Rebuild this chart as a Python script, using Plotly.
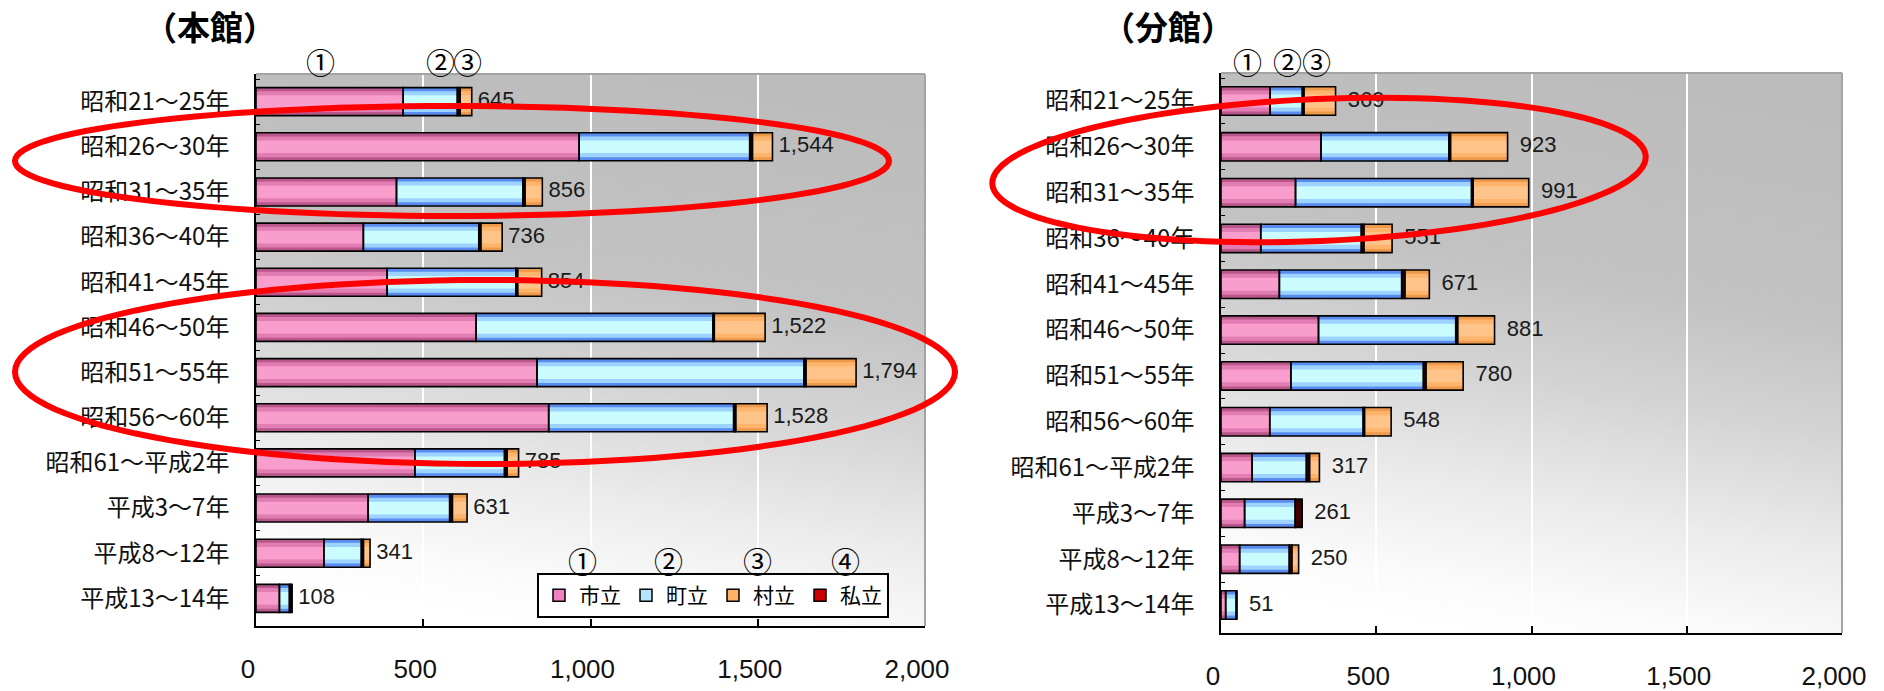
import base64
import math
import plotly.graph_objects as go

# ---- data -------------------------------------------------------------
categories = ["昭和21～25年", "昭和26～30年", "昭和31～35年", "昭和36～40年",
              "昭和41～45年", "昭和46～50年", "昭和51～55年", "昭和56～60年",
              "昭和61～平成2年", "平成3～7年", "平成8～12年", "平成13～14年"]
series_names = ["市立", "町立", "村立", "私立"]

# 本館
main_city = [440, 966, 420, 321, 392, 658, 840, 875, 475, 335, 203, 70]
main_town = [162, 510, 378, 345, 385, 708, 798, 553, 268, 244, 112, 30]
main_village = [35, 60, 52, 64, 72, 152, 150, 94, 34, 44, 20, 4]
main_private = [8, 8, 6, 6, 5, 4, 6, 6, 8, 8, 6, 4]

# 分館
branch_city = [158, 322, 240, 128, 188, 314, 225, 157, 100, 76, 60, 15]
branch_town = [104, 412, 567, 324, 394, 442, 427, 301, 175, 163, 160, 34]
branch_village = [102, 184, 179, 91, 79, 119, 120, 86, 32, 0, 22, 0]
branch_private = [5, 5, 5, 8, 10, 6, 8, 4, 10, 22, 8, 2]

tick_vals = [0, 500, 1000, 1500, 2000]
tick_text = ["0", "500", "1,000", "1,500", "2,000"]
panel_titles = ["（本館）", "（分館）"]

# ---- page geometry (pixels) ------------------------------------------
W, H = 1884, 691


def px(x):
    return x / W


def py(y):
    return 1 - y / H


CJK = "Noto Sans CJK JP"
NUM = "Liberation Sans Narrow, Liberation Sans, Arial"
LAB = "Liberation Sans, Arial"

panels = [
    dict(x0=256, x1=925, y0=74, y1=626, xa="x", ya="y", label_pad=" ",
         values={"市立": main_city, "町立": main_town,
                 "村立": main_village, "私立": main_private}),
    dict(x0=1221, x1=1842, y0=73, y1=633, xa="x2", ya="y2", label_pad="  ",
         values={"市立": branch_city, "町立": branch_town,
                 "村立": branch_village, "私立": branch_private}),
]

# shading bands for each series: (outer, middle, inner)
band_colors = {
    "市立": ["#b9578b", "#e27db3", "#f89dcc"],
    "町立": ["#5a8cf0", "#9dd3ff", "#c9fbff"],
    "村立": ["#ee9a4c", "#ffb46c", "#ffc48a"],
    "私立": ["#300000", "#3a0000", "#440000"],
}
legend_colors = {"市立": "#f080c0", "町立": "#b4e4ff", "村立": "#ffb464", "私立": "#cc0000"}
band_widths = [0.62, 0.46, 0.28]
stack_order = ["市立", "町立", "私立", "村立"]

fig = go.Figure()

for p in panels:
    vals = p["values"]
    bases = {}
    running = [0] * len(categories)
    for name in stack_order:
        bases[name] = list(running)
        running = [r + v for r, v in zip(running, vals[name])]
    totals = running

    # colour bands
    for name in stack_order:
        for w, col in zip(band_widths, band_colors[name]):
            fig.add_trace(go.Bar(
                y=categories, x=vals[name], base=bases[name], orientation="h",
                width=w, marker=dict(color=col, line=dict(width=0)),
                xaxis=p["xa"], yaxis=p["ya"], showlegend=False, hoverinfo="skip"))
    # black outlines
    for name in stack_order:
        fig.add_trace(go.Bar(
            y=categories, x=vals[name], base=bases[name], orientation="h",
            width=band_widths[0],
            marker=dict(color="rgba(0,0,0,0)", line=dict(color="#000000", width=1.6)),
            xaxis=p["xa"], yaxis=p["ya"], showlegend=False, hoverinfo="skip"))
    # total labels
    fig.add_trace(go.Scatter(
        y=categories, x=totals, mode="text",
        text=[p["label_pad"] + f"{t:,}" for t in totals], textposition="middle right",
        textfont=dict(family=LAB, size=22, color="#1a1a1a"),
        xaxis=p["xa"], yaxis=p["ya"], showlegend=False, hoverinfo="skip"))

# legend entries
for rank, name in enumerate(series_names):
    fig.add_trace(go.Bar(
        y=[None], x=[None], orientation="h", name=name, legendrank=rank + 1,
        marker=dict(color=legend_colors[name], line=dict(color="#000000", width=1.5)),
        xaxis="x", yaxis="y", hoverinfo="skip"))

# plot-area background gradient
svg = (
    "<svg xmlns='http://www.w3.org/2000/svg' width='100' height='100' "
    "viewBox='0 0 100 100' preserveAspectRatio='none'>"
    "<defs><linearGradient id='g' x1='0.6' y1='0' x2='0.4' y2='1'>"
    "<stop offset='0' stop-color='#bcbcbc'/>"
    "<stop offset='0.35' stop-color='#c2c2c2'/>"
    "<stop offset='0.55' stop-color='#d4d4d4'/>"
    "<stop offset='0.75' stop-color='#ebebeb'/>"
    "<stop offset='0.92' stop-color='#fbfbfb'/>"
    "<stop offset='1' stop-color='#ffffff'/>"
    "</linearGradient></defs>"
    "<rect width='100' height='100' fill='url(#g)'/></svg>"
)
svg_uri = "data:image/svg+xml;base64," + base64.b64encode(svg.encode()).decode()

images = []
shapes = []
annotations = []

for i, p in enumerate(panels):
    images.append(dict(source=svg_uri, xref="paper", yref="paper",
                       x=px(p["x0"]), y=py(p["y0"]),
                       sizex=(p["x1"] - p["x0"]) / W, sizey=(p["y1"] - p["y0"]) / H,
                       xanchor="left", yanchor="top", sizing="stretch", layer="below"))
    # grey frame on top and right
    shapes.append(dict(type="line", xref="paper", yref="paper",
                       x0=px(p["x0"]), x1=px(p["x1"]), y0=py(p["y0"]), y1=py(p["y0"]),
                       line=dict(color="#a4a4a4", width=2), layer="above"))
    shapes.append(dict(type="line", xref="paper", yref="paper",
                       x0=px(p["x1"]), x1=px(p["x1"]), y0=py(p["y0"]), y1=py(p["y1"]),
                       line=dict(color="#a4a4a4", width=2), layer="above"))

# panel titles
for title, tx in zip(panel_titles, [210, 1168]):
    annotations.append(dict(text="<b>" + title + "</b>", x=px(tx), y=py(26),
                            xref="paper", yref="paper", xanchor="center", yanchor="middle",
                            showarrow=False,
                            font=dict(family=CJK, size=33, color="#000000")))

# circled markers above the bars and the legend
markers = [("①", 320, 61), ("②", 440, 61), ("③", 467, 61),
           ("①", 1247, 61), ("②", 1287, 61), ("③", 1316, 61),
           ("①", 582, 560), ("②", 668, 560), ("③", 757, 560), ("④", 845, 560)]
for txt, mx, my in markers:
    annotations.append(dict(text=txt, x=px(mx), y=py(my), xref="paper", yref="paper",
                            xanchor="center", yanchor="middle", showarrow=False,
                            font=dict(family=CJK, size=29, color="#000000")))


def ellipse_path(cx, cy, rx, ry, deg, n=120):
    a = math.radians(deg)
    pts = []
    for k in range(n):
        t = 2 * math.pi * k / n
        ex, ey = rx * math.cos(t), ry * math.sin(t)
        xr = ex * math.cos(a) - ey * math.sin(a)
        yr = ex * math.sin(a) + ey * math.cos(a)
        pts.append((px(cx + xr), py(cy - yr)))
    return "M " + " L ".join(f"{x:.5f},{y:.5f}" for x, y in pts) + " Z"


for cx, cy, rx, ry, deg in [(452, 161, 437, 55, 0), (485, 372, 470, 92, 0),
                            (1319, 170, 327, 71, 2.4)]:
    shapes.append(dict(type="path", xref="paper", yref="paper",
                       path=ellipse_path(cx, cy, rx, ry, deg),
                       line=dict(color="#ff0000", width=6), fillcolor="rgba(0,0,0,0)",
                       layer="above"))

axis_common_x = dict(range=[0, 2000], tickvals=tick_vals, ticktext=tick_text,
                     ticks="inside", ticklen=7, tickwidth=2, tickcolor="#000000",
                     showgrid=True, gridcolor="#ffffff", gridwidth=2,
                     showline=True, linecolor="#000000", linewidth=2, zeroline=False,
                     tickfont=dict(family=NUM, size=26, color="#111111"),
                     ticklabelstandoff=19, ticklabelshift=-8, fixedrange=True,
                     automargin=False)
axis_common_y = dict(categoryorder="array", categoryarray=categories, autorange="reversed",
                     ticks="inside", tickson="boundaries", ticklen=4, tickcolor="#000000",
                     showline=True, linecolor="#000000", linewidth=1.5, showgrid=False,
                     tickfont=dict(family=CJK, size=24, color="#111111"),
                     ticklabelstandoff=20, fixedrange=True, automargin=False)

fig.update_layout(
    template="none",
    width=W, height=H,
    margin=dict(l=0, r=0, t=0, b=0, autoexpand=False),
    paper_bgcolor="#ffffff", plot_bgcolor="rgba(0,0,0,0)",
    barmode="overlay",
    xaxis=dict(domain=[px(256), px(925)], anchor="y", **axis_common_x),
    yaxis=dict(domain=[py(626), py(74)], anchor="x", **axis_common_y),
    xaxis2=dict(domain=[px(1221), px(1842)], anchor="y2", **axis_common_x),
    yaxis2=dict(domain=[py(633), py(73)], anchor="x2", **axis_common_y),
    legend=dict(orientation="h", x=px(537), y=py(573), xanchor="left", yanchor="top",
                bgcolor="#ffffff", bordercolor="#000000", borderwidth=2,
                font=dict(family=CJK, size=21, color="#000000"),
                traceorder="normal", entrywidth=42, entrywidthmode="pixels",
                itemwidth=30),
    images=images, shapes=shapes, annotations=annotations,
    showlegend=True,
)

fig.write_html("out.html")
